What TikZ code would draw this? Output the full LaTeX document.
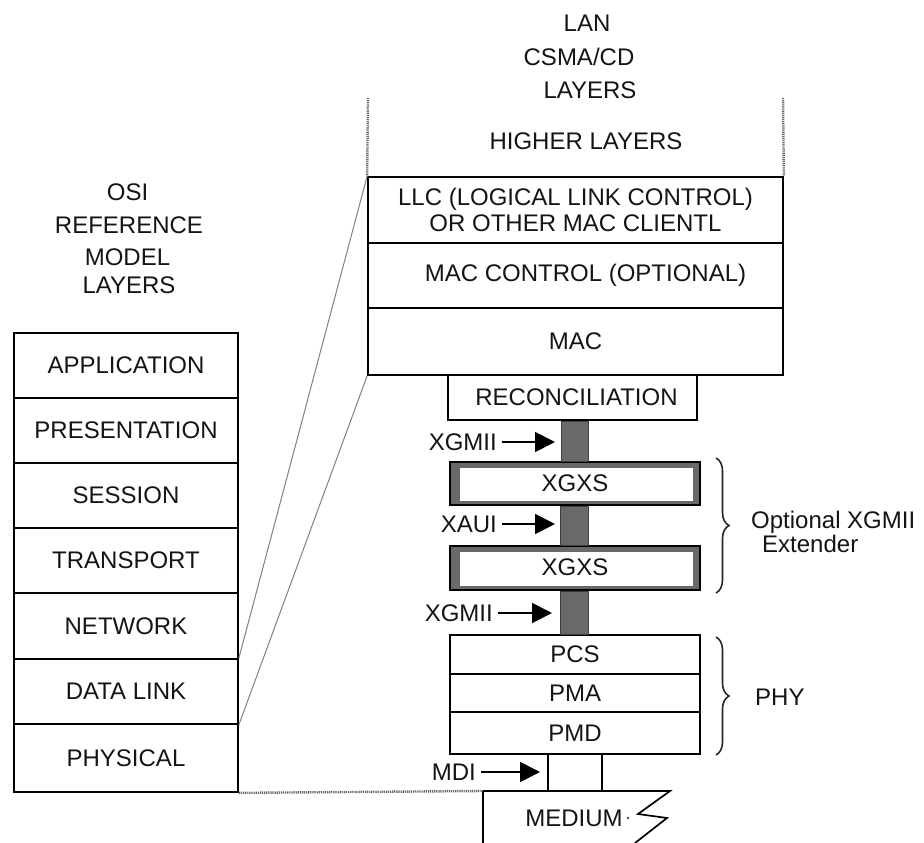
\documentclass[tikz,border=0pt]{standalone}
\usepackage{fontspec}
\setmainfont{Liberation Sans}
\usetikzlibrary{arrows.meta,decorations.pathreplacing}
\definecolor{bargray}{HTML}{696969}
\definecolor{inkgray}{HTML}{141414}
\tikzset{
  lbl/.style={inner sep=0pt, text=inkgray, font=\fontsize{24}{26}\selectfont},
  layerbox/.style={lbl, draw=black, line width=1.7pt, minimum width=#1},
  osibox/.style={layerbox=224pt},
  lanbox/.style={layerbox=415pt},
  phybox/.style={layerbox=250pt},
  xgxsbox/.style={layerbox=250pt, fill=bargray,
    path picture={\fill[white]
      ([xshift=10pt,yshift=-6pt]path picture bounding box.north west) rectangle
      ([xshift=-7pt,yshift=4pt]path picture bounding box.south east);}},
  busbar/.style={fill=bargray, draw=black!75, line width=0.7pt},
  feed/.style={line width=1.8pt, shorten <=5pt, -{Triangle[length=20pt 0 0,width=20pt 0 0]}},
  mapline/.style={gray, line width=1pt},
  dotline/.style={black!60, line width=2.4pt, dash pattern=on 1.2pt off 0.9pt},
  grpbrace/.style={decorate, decoration={brace, amplitude=13pt}, line width=1.6pt, black!85},
}
\begin{document}
\begin{tikzpicture}[x=1pt, y=-1pt]
\useasboundingbox (0,0) rectangle (924,843);

% ---- OSI reference model column ----
\node[lbl] (osiA) at (127.5,192) {OSI};
\node[lbl] (osiB) at (129,225) {REFERENCE};
\node[lbl] (osiC) at (127.5,257) {MODEL};
\node[lbl] (osiD) at (129,285) {LAYERS};

\node[osibox, minimum height=65pt] (app)  at (126,365.5) {APPLICATION};
\node[osibox, minimum height=65pt] (pres) at (126,430.5) {PRESENTATION};
\node[osibox, minimum height=65pt] (sess) at (126,495.5) {SESSION};
\node[osibox, minimum height=65pt] (trans) at (126,560.5) {TRANSPORT};
\node[osibox, minimum height=66pt] (net)  at (126,626) {NETWORK};
\node[osibox, minimum height=65pt] (dl)   at (126,691.5) {DATA LINK};
\node[osibox, minimum height=68pt] (phys) at (126,758) {PHYSICAL};

% ---- LAN CSMA/CD column ----
\node[lbl] (lanA) at (587,23) {LAN};
\node[lbl] (lanB) at (579,57) {CSMA/CD};
\node[lbl] (lanC) at (590,90) {LAYERS};
\node[lbl] (higher) at (586,141) {HIGHER LAYERS};

\node[lanbox, minimum height=66pt, align=center] (llc) at (575.5,210)
  {LLC (LOGICAL LINK CONTROL)\\[0pt]OR OTHER MAC CLIENTL};
\node[lanbox, minimum height=65pt] (macctl) at (575.5,275.5) {\hspace{20pt}MAC CONTROL (OPTIONAL)};
\node[lanbox, minimum height=67pt] (mac) at (575.5,341.5) {MAC};

\draw[dotline] (368,98) -- (llc.north west);
\draw[dotline] (783,98) -- (llc.north east);

\node[layerbox=249pt, minimum height=45pt] (rec) at (572.5,397.5) {\hspace{8pt}RECONCILIATION};

\node[xgxsbox, minimum height=43pt] (xg1) at (575,483.5) {\raisebox{1pt}{XGXS}};
\node[xgxsbox, minimum height=44pt] (xg2) at (575,568) {\raisebox{1pt}{XGXS}};

\node[phybox, minimum height=39pt] (pcs) at (575,654.5) {PCS};
\node[phybox, minimum height=38pt] (pma) at (575,693) {PMA};
\node[phybox, minimum height=42pt] (pmd) at (575,733) {PMD};

% interface buses between sublayers
\filldraw[busbar] ([xshift=-13pt]rec.south -| 574,0) rectangle ([xshift=14pt]xg1.north -| 574,0);
\filldraw[busbar] ([xshift=-14pt]xg1.south -| 574,0) rectangle ([xshift=14pt]xg2.north -| 574,0);
\filldraw[busbar] ([xshift=-14pt]xg2.south -| 574,0) rectangle ([xshift=14pt]pcs.north -| 574,0);

% interface labels with pointers
\node[lbl, anchor=east] (xgmiiA) at (497,442) {XGMII};
\node[lbl, anchor=east] (xaui)   at (497,524) {XAUI};
\node[lbl, anchor=east] (xgmiiB) at (493,613) {XGMII};
\node[lbl, anchor=east] (mdi)    at (476,772) {MDI};
\coordinate (pA) at (555,442);
\coordinate (pB) at (555,524);
\coordinate (pC) at (552,613);
\coordinate (pD) at (540,772);
\draw[feed] (xgmiiA.east) -- (pA);
\draw[feed] (xaui.east) -- (pB);
\draw[feed] (xgmiiB.east) -- (pC);
\draw[feed] (mdi.east) -- (pD);

% MDI connector and medium
\node[draw, line width=1.7pt, minimum width=54pt, minimum height=37pt, inner sep=0pt] (mdibox) at (575,772.5) {};
\coordinate (mt) at (483,791);
\coordinate (zA) at (670,791);
\coordinate (zB) at (638,814);
\coordinate (zC) at (667,818);
\coordinate (zD) at (635,843);
\coordinate (mb) at (483,843);
\draw[dotline] (phys.south east) -- (mt);
\draw[line width=1.7pt, line join=miter] (mt) -- (zA) -- (zB) -- (zC) -- (zD);
\draw[line width=1.7pt] (mt) -- (mb);
\node[lbl] (medium) at (574,818) {MEDIUM};
\fill[black!70] (628,818) circle (1.4pt);

% mapping of the data link layer onto the LAN sublayers
\draw[mapline] (dl.north east) -- (llc.north west);
\draw[mapline] (dl.south east) -- (mac.south west);

% grouping braces
\draw[grpbrace] (716,458) -- (716,593);
\node[lbl, anchor=west] (optA) at (751,522) {Optional XGMII};
\node[lbl, anchor=west] (optB) at (762,544) {Extender};
\draw[grpbrace] (716,637) -- (716,755);
\node[lbl, anchor=west] (phy) at (755,697) {PHY};
\end{tikzpicture}
\end{document}
